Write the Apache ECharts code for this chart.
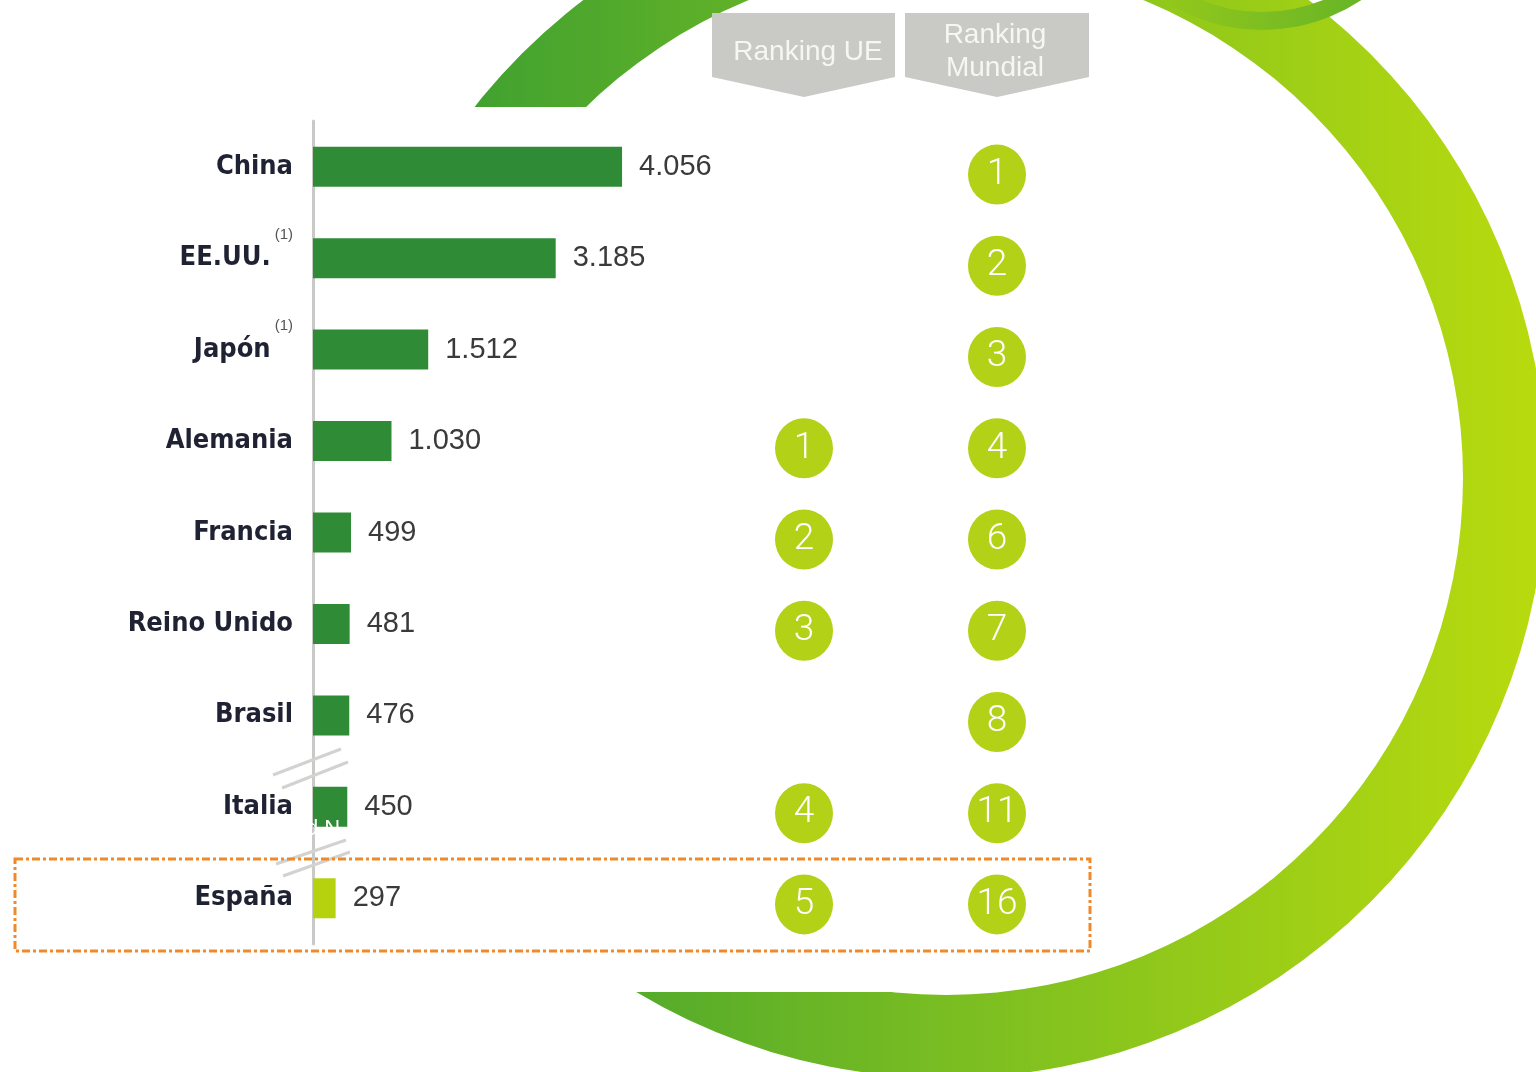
<!DOCTYPE html>
<html>
<head>
<meta charset="utf-8">
<title>Ranking</title>
<script src="https://cdn.jsdelivr.net/npm/echarts@6/dist/echarts.min.js"></script>
<style>
  html, body { margin: 0; padding: 0; background: #fff; }
  #echarts { width: 1536px; height: 1072px; }
</style>
</head>
<body>
<div id="echarts"></div>
<script>
// datos
const categories = ['China', 'EE.UU.', 'Japón', 'Alemania', 'Francia', 'Reino Unido', 'Brasil', 'Italia', 'España'];
const notes = ['', '(1)', '(1)', '', '', '', '', '', ''];
const values = [4056, 3185, 1512, 1030, 499, 481, 476, 450, 297];
const rankingUE = [null, null, null, 1, 2, 3, null, 4, 5];
const rankingMundial = [1, 2, 3, 4, 6, 7, 8, 11, 16];
const headers = ['Ranking UE', 'Ranking\nMundial'];

const condensed = "'DejaVu Sans Condensed', 'DejaVu Sans', sans-serif";
const arial = "'Liberation Sans', Arial, sans-serif";

let fmt = function (v) {
    return String(v).replace(/\B(?=(\d{3})+(?!\d))/g, '.');
};

let rankData = function (list, col) {
    let out = [];
    list.forEach((r, i) => {
        if (r !== null) out.push({ value: [col, categories[i]], rank: r });
    });
    return out;
};

let ringGradient = {
    type: 'linear', x: 0, y: 0, x2: 1, y2: 0,
    colorStops: [
        { offset: 0, color: '#329a33' },
        { offset: 0.5, color: '#79bd22' },
        { offset: 1, color: '#b9db0e' }
    ]
};

let rankLabel = {
    show: true, position: 'inside', color: '#ffffff',
    fontFamily: 'Roboto, sans-serif', fontWeight: 300, fontSize: 37,
    formatter: p => p.data.rank
};

let option = {
    backgroundColor: '#ffffff',
    animation: false,
    graphic: [
        // anillo de fondo
        { type: 'ring', z: 0, shape: { cx: 946, cy: 478, r: 600, r0: 517 }, style: { fill: ringGradient } },
        { type: 'ring', z: 0, shape: { cx: 1262, cy: -150, r: 180, r0: 162 },
          style: { fill: { type: 'linear', x: 0, y: 0, x2: 1, y2: 0,
            colorStops: [{ offset: 0, color: '#a6d016' }, { offset: 1, color: '#55ad2b' }] } } },
        { type: 'rect', z: 0, shape: { x: 0, y: 107, width: 930, height: 885 }, style: { fill: '#ffffff' } },

        // cabeceras
        { type: 'polygon', z: 1, shape: { points: [[712, 13], [895, 13], [895, 77], [804, 97], [712, 77]] }, style: { fill: '#c9c9c5' } },
        { type: 'polygon', z: 1, shape: { points: [[905, 13], [1089, 13], [1089, 77], [997, 97], [905, 77]] }, style: { fill: '#c9c9c5' } },
        { type: 'text', z: 1, x: 808, y: 52, style: { text: headers[0], fill: '#f6f6f2', font: "28px " + arial, align: 'center', verticalAlign: 'middle' } },
        { type: 'text', z: 1, x: 995, y: 52, style: { text: headers[1], fill: '#f6f6f2', font: "28px " + arial, align: 'center', verticalAlign: 'middle', lineHeight: 33 } },

        // cortes del eje
        { type: 'line', z: 1, shape: { x1: 273, y1: 775, x2: 341, y2: 749 }, style: { stroke: '#d2d2d0', lineWidth: 3 } },
        { type: 'line', z: 1, shape: { x1: 282, y1: 788, x2: 348, y2: 762 }, style: { stroke: '#d2d2d0', lineWidth: 3 } },
        { type: 'line', z: 1, shape: { x1: 276, y1: 864, x2: 346, y2: 840 }, style: { stroke: '#d2d2d0', lineWidth: 3 } },
        { type: 'line', z: 1, shape: { x1: 283, y1: 876, x2: 350, y2: 852 }, style: { stroke: '#d2d2d0', lineWidth: 3 } },

        // recuadro España
        { type: 'rect', z: 1, shape: { x: 15, y: 859, width: 1075, height: 92 },
          style: { fill: null, stroke: '#ef8a2b', lineWidth: 3, lineDash: [8, 3, 3, 3] } },

        { type: 'text', z: 10, x: 306, y: 829, style: { text: 'd N', fill: '#ffffff', font: "22px " + arial, verticalAlign: 'middle' } }
    ],
    grid: [
        { left: 313, top: 121, width: 381, height: 823 },
        { left: 611, top: 129, width: 386, height: 821 }
    ],
    xAxis: [
        { type: 'value', gridIndex: 0, min: 0, max: 5000, show: false },
        { type: 'value', gridIndex: 1, min: 0, max: 2, show: false }
    ],
    yAxis: [
        {
            type: 'category', gridIndex: 0, inverse: true, data: categories,
            axisLine: { show: true, lineStyle: { color: '#c9c9c7', width: 3 } },
            axisTick: { show: false },
            axisLabel: {
                margin: 20,
                color: '#1f2232',
                fontFamily: condensed,
                fontWeight: 'bold',
                fontSize: 27,
                lineHeight: 62,
                formatter: function (v, i) {
                    return notes[i] ? v + '{sup|' + notes[i] + '}' : v;
                },
                rich: {
                    sup: { fontSize: 15, fontWeight: 'normal', color: '#555', verticalAlign: 'top', lineHeight: 62, padding: [0, 0, 0, 4], fontFamily: arial }
                }
            }
        },
        { type: 'category', gridIndex: 1, inverse: true, data: categories, show: false }
    ],
    series: [
        {
            type: 'bar', xAxisIndex: 0, yAxisIndex: 0, barWidth: 40,
            data: values.map((v, i) => ({
                value: v,
                itemStyle: { color: i === categories.length - 1 ? '#b6d20f' : '#2f8b36' }
            })),
            label: {
                show: true, position: 'right', distance: 17,
                color: '#3a3a3c', fontFamily: arial, fontSize: 29,
                formatter: p => fmt(p.value)
            }
        },
        {
            type: 'scatter', xAxisIndex: 1, yAxisIndex: 1,
            symbol: 'circle', symbolSize: [58, 60],
            itemStyle: { color: '#b3d117', opacity: 1 },
            data: rankData(rankingUE, 1),
            label: rankLabel
        },
        {
            type: 'scatter', xAxisIndex: 1, yAxisIndex: 1,
            symbol: 'circle', symbolSize: [58, 60],
            itemStyle: { color: '#b3d117', opacity: 1 },
            data: rankData(rankingMundial, 2),
            label: rankLabel
        }
    ]
};

let chart = echarts.init(document.getElementById('echarts'));
chart.setOption(option);
</script>
</body>
</html>
